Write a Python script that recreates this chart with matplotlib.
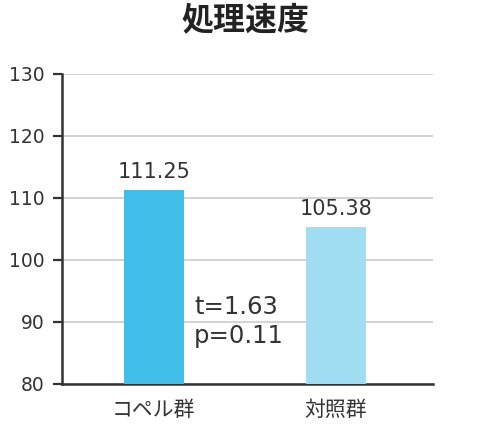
import matplotlib
matplotlib.use("Agg")
import matplotlib.pyplot as plt

plt.rcParams['font.family'] = ['DejaVu Sans', 'Noto Sans CJK JP']

groups = ["コペル群", "対照群"]
speeds = [111.25, 105.38]
bar_colors = ["#41BFE8", "#A0DDF2"]
t_value = 1.63
p_value = 0.11

fig = plt.figure(figsize=(4.9, 4.3), dpi=100)
ax = fig.add_axes([0.1265, 0.107, 0.757, 0.721])

ax.bar(range(len(groups)), speeds, width=0.33, color=bar_colors, zorder=3)
for i, v in enumerate(speeds):
    ax.text(i, v + 1.3, f"{v:.2f}", ha="center", va="bottom", fontsize=15, color="#333333")

ax.set_xlim(-0.505, 1.533)
ax.set_ylim(80, 130)
ax.set_yticks(range(80, 131, 10))
ax.set_xticks(range(len(groups)))
ax.set_xticklabels(groups, fontsize=15, color="#333333", family=['Noto Sans CJK JP'])
ax.tick_params(axis="x", length=0, pad=11)
ax.tick_params(axis="y", length=6.5, width=1.6, color="#333333", labelsize=13.5,
               labelcolor="#333333", pad=6)
ax.yaxis.grid(True, color="#cccccc", linewidth=1.2, zorder=0)

for side in ["top", "right"]:
    ax.spines[side].set_visible(False)
for side in ["left", "bottom"]:
    ax.spines[side].set_color("#333333")
    ax.spines[side].set_linewidth(1.8)

# t-test result
ax.text(0.22, 90.1, f"t={t_value:.2f}\np={p_value:.2f}", fontsize=17.5, color="#333333",
        va="center", ha="left", linespacing=1.25)

fig.text(0.5, 0.952, "処理速度", ha="center", va="center", fontsize=23, fontweight="bold",
         color="#222222", family=['Noto Sans CJK JP'])

fig.savefig("out.png", dpi=100)
